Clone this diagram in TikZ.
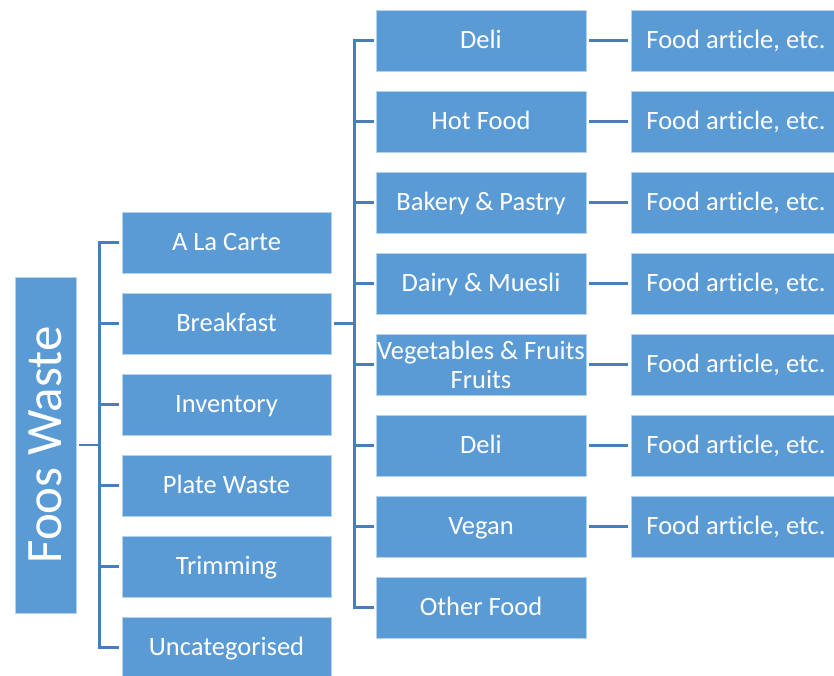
\documentclass[tikz,border=0pt]{standalone}
\usepackage{fontspec}
\usepackage{xcolor}
\setmainfont[Ligatures=NoCommon]{Carlito}
\definecolor{boxblue}{HTML}{5B9BD5}
\definecolor{linkblue}{HTML}{4A7EBB}
\begin{document}
\begin{tikzpicture}[x=1pt,y=-1pt,
  box/.style={fill=boxblue,draw=white!55!boxblue,line width=0.6pt,inner sep=0pt,
    text=white,font=\fontsize{26.5}{30}\selectfont,align=center,
    text height=20pt,text depth=5pt,
    minimum width=209pt,minimum height=61pt},
  link/.style={linkblue,line width=2.5pt}]
\useasboundingbox (0,0) rectangle (834,675);
\clip (0,0) rectangle (834,675);

% root
\node[box,minimum width=61pt,minimum height=336pt,text height=,text depth=,font=\fontsize{51}{51}\selectfont] (root) at (45.5,445) {\rotatebox{90}{Foos Waste}};

% first level
\node[box] (alc) at (226.5,242.5) {A La Carte};
\node[box] (bf) at (226.5,323.5) {Breakfast};
\node[box] (inv) at (226.5,404.5) {Inventory};
\node[box] (pw) at (226.5,485.5) {Plate Waste};
\node[box] (trim) at (226.5,566.5) {Trimming};
\node[box] (unc) at (226.5,647.5) {Uncategorised};

% breakfast counters
\node[box,minimum width=210pt] (c1) at (481,40.5) {Deli};
\node[box,minimum width=210pt] (c2) at (481,121.5) {Hot Food};
\node[box,minimum width=210pt] (c3) at (481,202.5) {Bakery \& Pastry};
\node[box,minimum width=210pt] (c4) at (481,283.5) {Dairy \& Muesli};
\node[box,minimum width=210pt,text height=,text depth=,font=\fontsize{26.5}{29}\selectfont] (c5) at (481,364.5) {Vegetables \& Fruits\\Fruits};
\node[box,minimum width=210pt] (c6) at (481,445.5) {Deli};
\node[box,minimum width=210pt] (c7) at (481,526.5) {Vegan};
\node[box,minimum width=210pt] (c8) at (481,607.5) {Other Food};

% food articles
\foreach \i in {1,...,7}
  \node[box,minimum width=210pt] (f\i) at (736,{40.5+81*(\i-1)}) {Food article, etc.};

% connectors
\foreach \n in {alc,bf,inv,pw,trim,unc}
  \draw[link,shorten <=3pt,shorten >=3pt] (root.east) -- ++(23,0) |- (\n.west);
\foreach \i in {1,...,8}
  \draw[link,shorten <=3pt,shorten >=2pt] (bf.east) -- ++(23,0) |- (c\i.west);
\foreach \i in {1,...,7}
  \draw[link,shorten <=3pt,shorten >=3pt] (c\i.east) -- (f\i.west);

\end{tikzpicture}
\end{document}
